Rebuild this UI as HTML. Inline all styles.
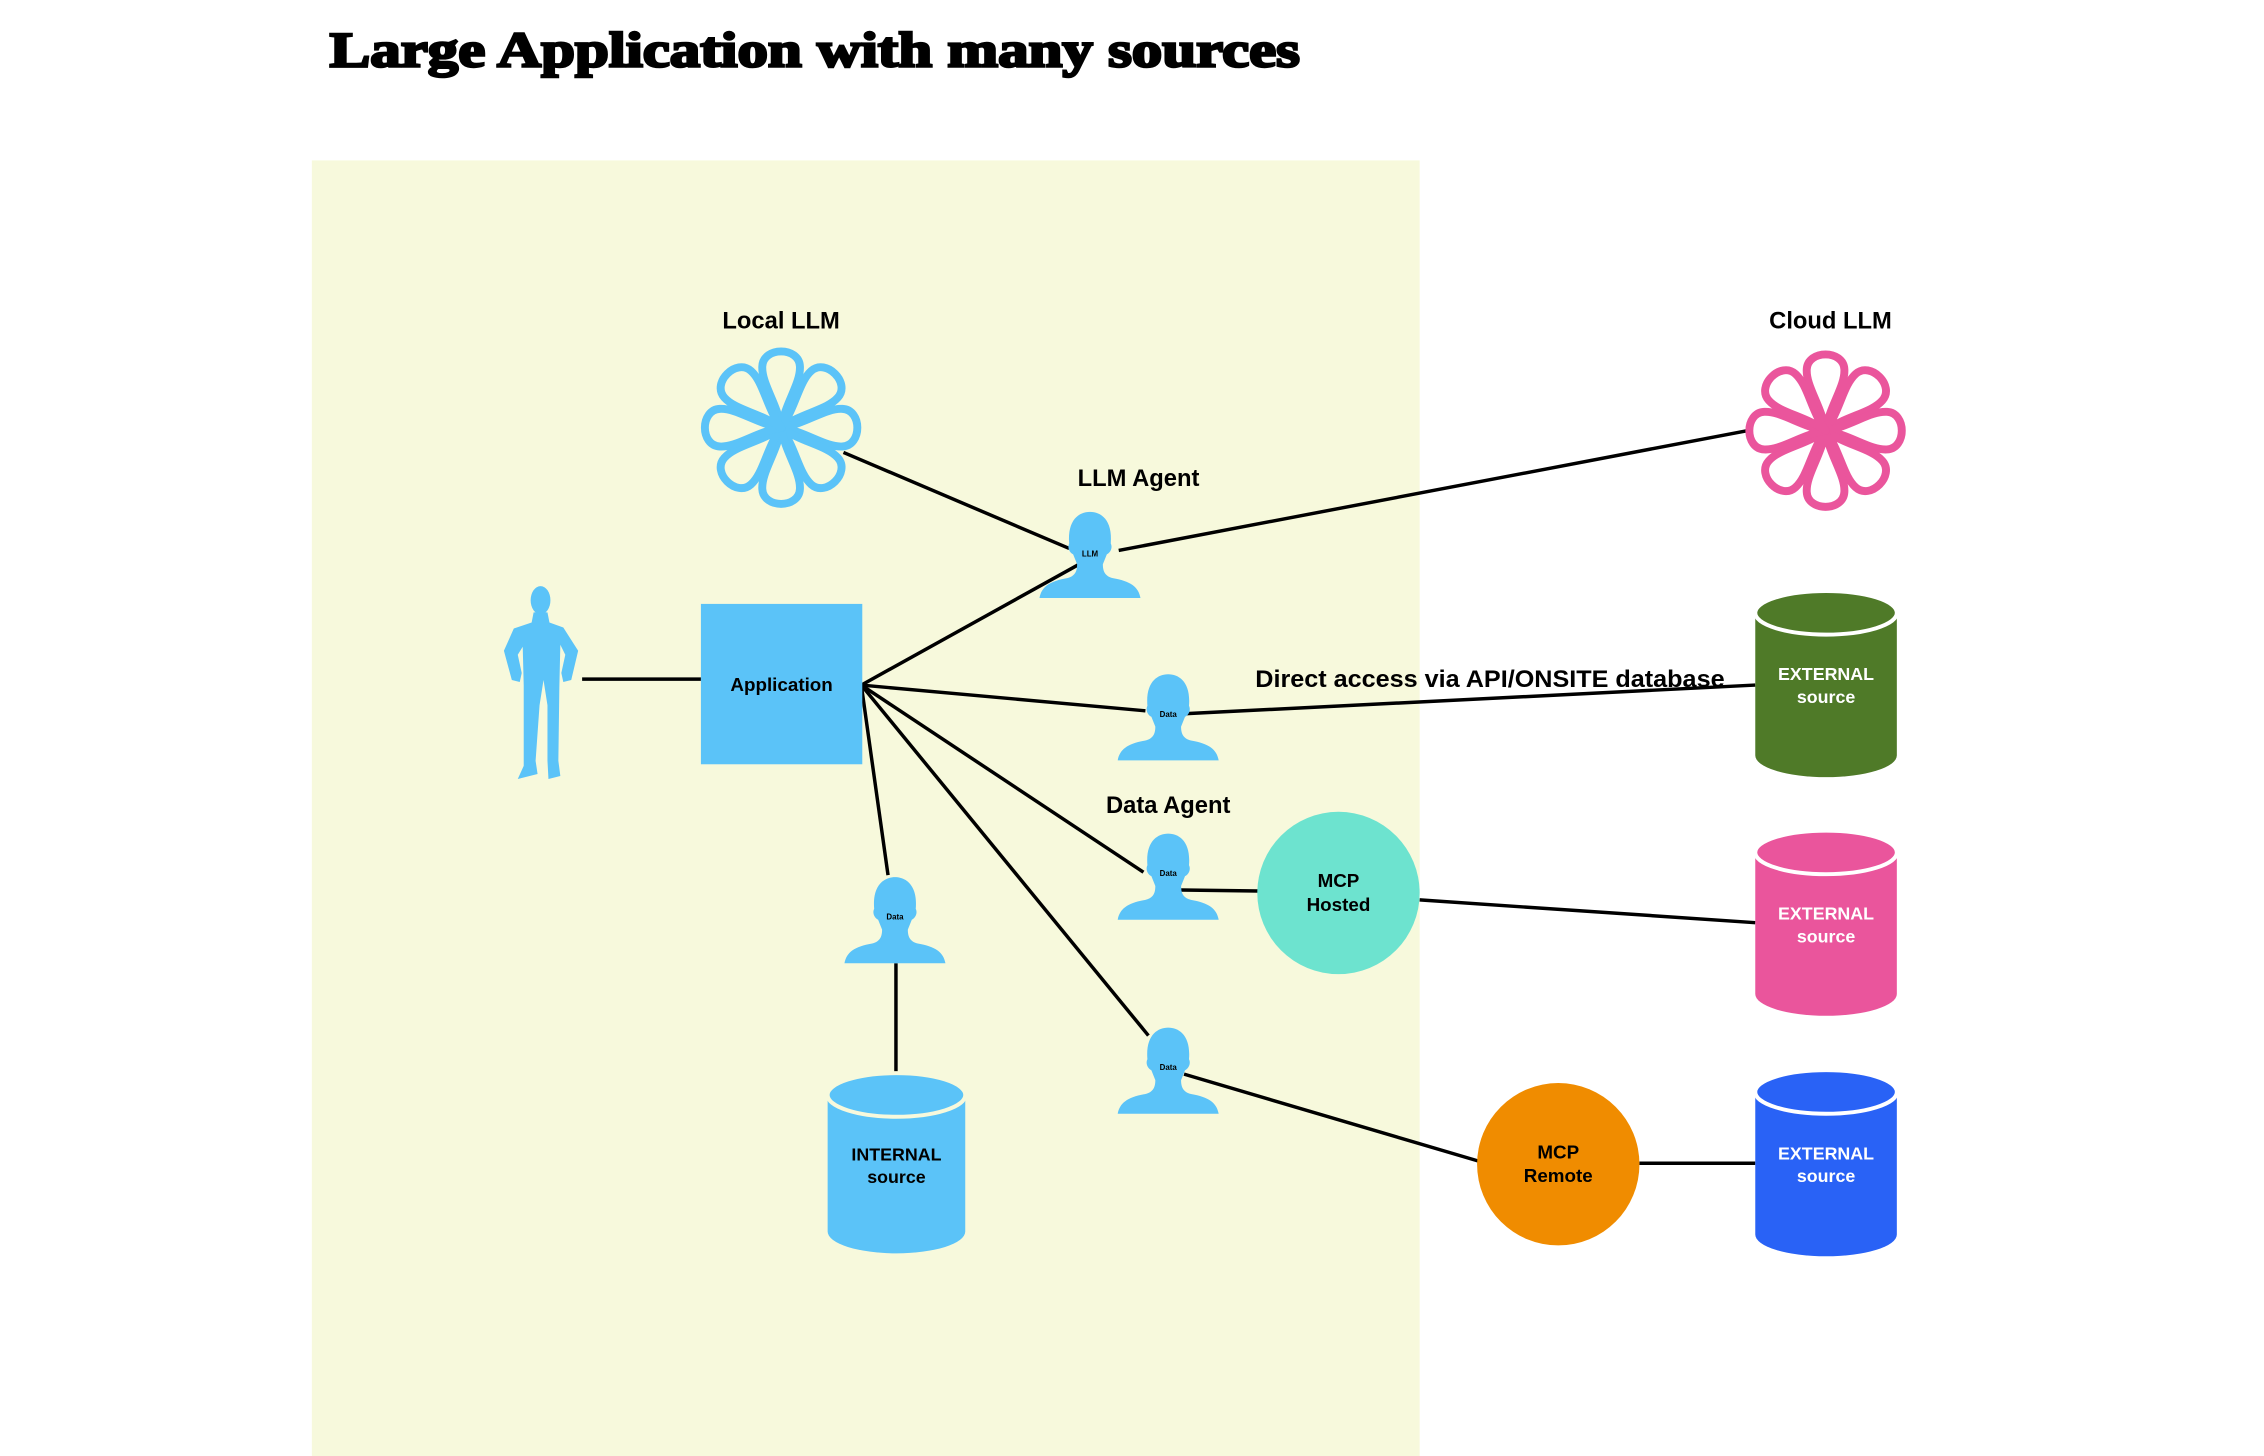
<!DOCTYPE html>
<html><head><meta charset="utf-8"><style>
html,body{margin:0;padding:0;background:#fff;}
svg{display:block;}
text{font-family:"Liberation Sans",sans-serif;font-weight:bold;}
</style></head><body>
<svg width="2264" height="1456" viewBox="0 0 2264 1456" xmlns="http://www.w3.org/2000/svg">
<defs>
<path id="bust" d="M0,89 C2,78 10,72 28,69 C36,67 38,62 38,55 L34,45 C30,43 28,38 30,34 C28,10 40,2 51,2 C62,2 74,10 72,34 C74,38 72,43 68,45 L64,55 C64,62 66,67 74,69 C92,72 100,78 102,89 Z" fill="#5bc3f8"/>
<path id="petal" d="M0,0 C-4,-25 -20,-45 -19,-62 C-18,-82 18,-82 19,-62 C20,-45 4,-25 0,0 Z" fill="none" stroke-width="8" stroke-linejoin="round"/>
</defs>
<g transform="scale(0.99)">
<rect x="315" y="162" width="1119" height="1320" fill="#f7f9dc"/>
<text x="333" y="67" font-size="50" textLength="980" lengthAdjust="spacingAndGlyphs" stroke="#000" stroke-width="2.5" style="font-family:'Liberation Serif',serif;font-weight:900">Large Application with many sources</text>

<g stroke="#000" stroke-width="3.5" fill="none">
<line x1="588" y1="686" x2="708" y2="686"/>
<line x1="852" y1="457" x2="1080" y2="554"/>
<line x1="1130" y1="556" x2="1765" y2="435"/>
<line x1="870" y1="692" x2="1090" y2="570"/>
<line x1="870" y1="692" x2="1157" y2="718"/>
<line x1="1196" y1="721" x2="1773" y2="692"/>
<line x1="870" y1="692" x2="1155" y2="881"/>
<line x1="1193" y1="899" x2="1271" y2="900"/>
<line x1="1434" y1="909" x2="1773" y2="932"/>
<line x1="870" y1="692" x2="897" y2="884"/>
<line x1="905" y1="973" x2="905" y2="1084"/>
<line x1="870" y1="692" x2="1160" y2="1046"/>
<line x1="1196" y1="1085" x2="1494" y2="1173"/>
<line x1="1656" y1="1175" x2="1773" y2="1175"/>
</g>

<text x="789" y="332" font-size="24" text-anchor="middle">Local LLM</text>
<text x="1849" y="332" font-size="24" text-anchor="middle">Cloud LLM</text>
<text x="1150" y="491" font-size="24" text-anchor="middle">LLM Agent</text>
<text x="1180" y="821" font-size="24" text-anchor="middle">Data Agent</text>
<text x="1268" y="694" font-size="24" textLength="474" lengthAdjust="spacingAndGlyphs">Direct access via API/ONSITE database</text>

<g transform="translate(789,432)" stroke="#5bc3f8">
<use href="#petal"/><use href="#petal" transform="rotate(45)"/><use href="#petal" transform="rotate(90)"/><use href="#petal" transform="rotate(135)"/><use href="#petal" transform="rotate(180)"/><use href="#petal" transform="rotate(225)"/><use href="#petal" transform="rotate(270)"/><use href="#petal" transform="rotate(315)"/>
</g>
<g transform="translate(1844,435)" stroke="#ea559c">
<use href="#petal"/><use href="#petal" transform="rotate(45)"/><use href="#petal" transform="rotate(90)"/><use href="#petal" transform="rotate(135)"/><use href="#petal" transform="rotate(180)"/><use href="#petal" transform="rotate(225)"/><use href="#petal" transform="rotate(270)"/><use href="#petal" transform="rotate(315)"/>
</g>

<g transform="translate(509,590) scale(1,1.02)" fill="#5bc3f8">
<ellipse cx="37" cy="16" rx="10" ry="14"/>
<path d="M30,28 L44,28 L46,38 L60,43 L75,66 L68,95 L60,97 L58,88 L62,70 L57,60 L56,102 L55,175 L57,190 L45,193 L44,175 L44,120 L40,95 L36,120 L32,175 L34,188 L14,193 L20,180 L20,120 L20,100 L19,62 L14,70 L18,88 L16,97 L8,95 L0,66 L10,44 L28,38 Z"/>
</g>

<rect x="708" y="610" width="163" height="162" fill="#5bc3f8"/>
<text x="789.5" y="698" font-size="19" text-anchor="middle">Application</text>

<g transform="translate(1050,515)"><use href="#bust"/><text x="51" y="47" font-size="8" text-anchor="middle" font-weight="normal">LLM</text></g>
<g transform="translate(1129,679)"><use href="#bust"/><text x="51" y="45" font-size="8" text-anchor="middle" font-weight="normal">Data</text></g>
<g transform="translate(1129,840)"><use href="#bust"/><text x="51" y="45" font-size="8" text-anchor="middle" font-weight="normal">Data</text></g>
<g transform="translate(853,884)"><use href="#bust"/><text x="51" y="45" font-size="8" text-anchor="middle" font-weight="normal">Data</text></g>
<g transform="translate(1129,1036)"><use href="#bust"/><text x="51" y="45" font-size="8" text-anchor="middle" font-weight="normal">Data</text></g>

<circle cx="1352" cy="902" r="82" fill="#6de3cf"/>
<text x="1352" y="896" font-size="19" text-anchor="middle" font-weight="normal">MCP</text>
<text x="1352" y="920" font-size="19" text-anchor="middle" font-weight="normal">Hosted</text>
<circle cx="1574" cy="1176" r="82" fill="#f08c00"/>
<text x="1574" y="1170" font-size="19" text-anchor="middle" font-weight="normal">MCP</text>
<text x="1574" y="1194" font-size="19" text-anchor="middle" font-weight="normal">Remote</text>

<g fill="#4f7a28">
<path d="M1773,619 L1773,763 A71.5,22 0 0 0 1916,763 L1916,619 Z"/>
<ellipse cx="1844.5" cy="619" rx="71.5" ry="22" stroke="#fff" stroke-width="4"/>
</g>
<text x="1844.5" y="687" font-size="18" fill="#fff" text-anchor="middle">EXTERNAL</text>
<text x="1844.5" y="710" font-size="18" fill="#fff" text-anchor="middle">source</text>

<g fill="#ea559c">
<path d="M1773,861 L1773,1004 A71.5,22 0 0 0 1916,1004 L1916,861 Z"/>
<ellipse cx="1844.5" cy="861" rx="71.5" ry="22" stroke="#fff" stroke-width="4"/>
</g>
<text x="1844.5" y="929" font-size="18" fill="#fff" text-anchor="middle">EXTERNAL</text>
<text x="1844.5" y="952" font-size="18" fill="#fff" text-anchor="middle">source</text>

<g fill="#2962f6">
<path d="M1773,1103 L1773,1247 A71.5,22 0 0 0 1916,1247 L1916,1103 Z"/>
<ellipse cx="1844.5" cy="1103" rx="71.5" ry="22" stroke="#fff" stroke-width="4"/>
</g>
<text x="1844.5" y="1171" font-size="18" fill="#fff" text-anchor="middle">EXTERNAL</text>
<text x="1844.5" y="1194" font-size="18" fill="#fff" text-anchor="middle">source</text>

<g fill="#5bc3f8">
<path d="M836,1106 L836,1244 A69.5,22 0 0 0 975,1244 L975,1106 Z"/>
<ellipse cx="905.5" cy="1106" rx="69.5" ry="22" stroke="#f7f9dc" stroke-width="4"/>
</g>
<text x="905.5" y="1172" font-size="18" fill="#000" text-anchor="middle">INTERNAL</text>
<text x="905.5" y="1195" font-size="18" fill="#000" text-anchor="middle">source</text>
</g>
</svg>
</body></html>
